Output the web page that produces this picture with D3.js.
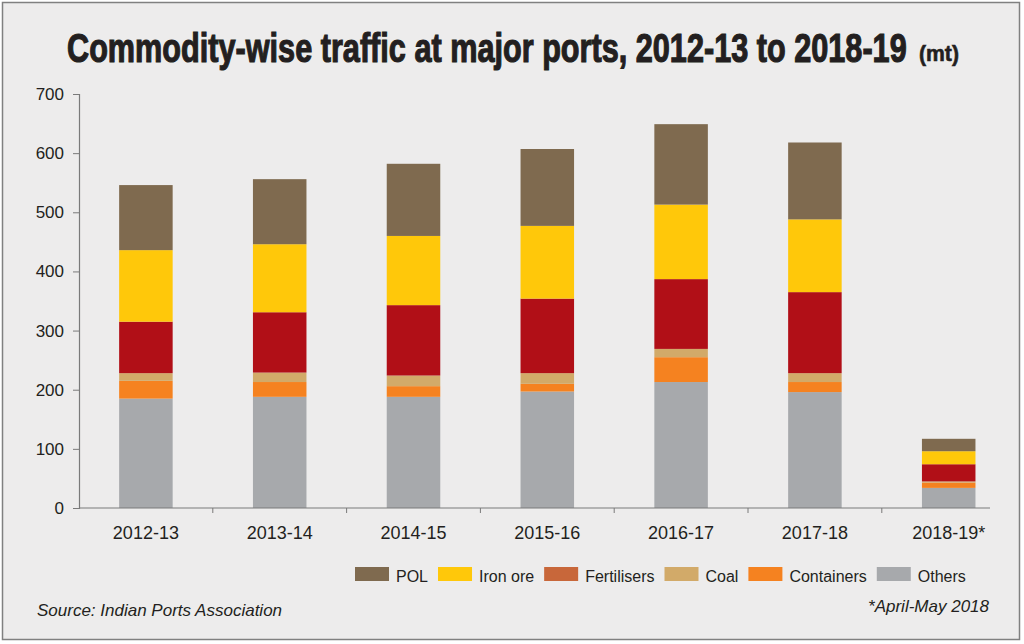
<!DOCTYPE html>
<html lang="en">
<head>
<meta charset="utf-8">
<title>Commodity-wise traffic at major ports</title>
<script src="https://d3js.org/d3.v7.min.js"></script>
<style>
  body { margin: 0; background: #fff; }
  svg { display: block; }
  text { font-family: "Liberation Sans", Arial, sans-serif; fill: #231f20; }
</style>
</head>
<body>
<div id="chart"></div>
<script>
// years on the x axis
const categories = ["2012-13", "2013-14", "2014-15", "2015-16", "2016-17", "2017-18", "2018-19*"];

// million tonnes, bottom of the stack first
const others      = [185, 188, 188, 197, 213, 196, 34];
const containers  = [30, 25, 18, 13, 42, 17, 9];
const coal        = [13, 16, 18, 18, 14, 15, 2];
const fertilisers = [87, 102, 119, 126, 118, 137, 29];
const ironOre     = [121, 115, 117, 123, 126, 123, 22];
const pol         = [110, 110, 122, 130, 136, 130, 21];

const yTicks = [0, 100, 200, 300, 400, 500, 600, 700];

const seriesKeys = ["Others", "Containers", "Coal", "Fertilisers", "Iron ore", "POL"];
const seriesValues = [others, containers, coal, fertilisers, ironOre, pol];
const barColors = ["#a7a9ac", "#f58220", "#d2aa69", "#b10f17", "#ffc80a", "#7f6a4f"];
// legend swatches as printed (fertilisers swatch differs from its bar colour)
const legendOrder = ["POL", "Iron ore", "Fertilisers", "Coal", "Containers", "Others"];
const legendColors = ["#7f6a4f", "#ffc80a", "#c8673a", "#d2aa69", "#f58220", "#a7a9ac"];

const width = 1024, height = 644;
const plotLeft = 79, plotBottom = 508, plotTop = 94;

const rows = categories.map((c, i) => {
  const r = {year: c};
  seriesKeys.forEach((k, j) => r[k] = seriesValues[j][i]);
  return r;
});

const svg = d3.select("#chart").append("svg")
    .attr("width", width)
    .attr("height", height);

svg.append("rect")
    .attr("x", 2.5).attr("y", 2.5)
    .attr("width", 1017).attr("height", 637)
    .attr("fill", "#edecec")
    .attr("stroke", "#808080")
    .attr("stroke-width", 1.5);

// title: squeeze horizontally to imitate the condensed heavy face
function condensed(str, x0, y0, size, targetW, sw) {
  const t = svg.append("text")
      .style("font-family", "'Liberation Sans Narrow', 'Liberation Sans', Arial, sans-serif")
      .style("font-weight", "bold")
      .style("font-size", size + "px")
      .style("stroke", "#231f20")
      .style("stroke-width", sw + "px")
      .text(str);
  const w = t.node().getComputedTextLength();
  t.attr("transform", `translate(${x0},${y0}) scale(${targetW / w},1)`);
}
condensed("Commodity-wise traffic at major ports, 2012-13 to 2018-19", 67, 62, 41, 840, 1.2);
condensed("(mt)", 919, 61, 22, 40, 0.6);

const x = d3.scaleBand()
    .domain(categories)
    .range([plotLeft, 1015.6])
    .paddingInner(0.6)
    .paddingOuter(0.3);

const y = d3.scaleLinear()
    .domain([0, 700])
    .range([plotBottom, plotTop]);

const stack = d3.stack().keys(seriesKeys)(rows);

svg.append("g")
  .selectAll("g")
  .data(stack)
  .join("g")
    .attr("fill", (d, i) => barColors[i])
  .selectAll("rect")
  .data(d => d)
  .join("rect")
    .attr("x", d => x(d.data.year))
    .attr("y", d => y(d[1]))
    .attr("width", x.bandwidth())
    .attr("height", d => y(d[0]) - y(d[1]));

// y axis
const yAxis = svg.append("g")
    .attr("transform", `translate(${plotLeft},0)`)
    .call(d3.axisLeft(y).tickValues(yTicks).tickSize(6).tickPadding(9));
yAxis.select(".domain").attr("stroke", "#7a7a7a").attr("stroke-width", 1.2);
yAxis.selectAll(".tick line").attr("stroke", "#7a7a7a");
yAxis.selectAll(".tick text")
    .style("font-size", "17px")
    .attr("fill", "#231f20");

// x axis: line, ticks between bars, labels under bars
const step = x.step();
const gx = svg.append("g");
gx.append("line")
    .attr("x1", plotLeft).attr("x2", 990)
    .attr("y1", plotBottom).attr("y2", plotBottom)
    .attr("stroke", "#7a7a7a").attr("stroke-width", 1.2);
gx.selectAll("line.tk")
  .data(categories.slice(1))
  .join("line")
    .attr("class", "tk")
    .attr("x1", d => x(d) - x.paddingOuter() * step)
    .attr("x2", d => x(d) - x.paddingOuter() * step)
    .attr("y1", plotBottom).attr("y2", plotBottom + 5)
    .attr("stroke", "#7a7a7a");
gx.selectAll("text")
  .data(categories)
  .join("text")
    .attr("x", d => x(d) + x.bandwidth() / 2)
    .attr("y", 539)
    .attr("text-anchor", "middle")
    .style("font-size", "18px")
    .text(d => d);

// legend, laid out left to right
const legend = svg.append("g");
const items = legend.selectAll("g")
  .data(legendOrder)
  .join("g");
items.append("rect")
    .attr("width", 34).attr("height", 14)
    .attr("y", 567)
    .attr("fill", (d, i) => legendColors[i]);
items.append("text")
    .attr("y", 581.5)
    .attr("x", 41)
    .style("font-size", "16px")
    .text(d => d);

let cx = 355;
items.each(function() {
  const g = d3.select(this);
  g.attr("transform", `translate(${cx},0)`);
  const w = g.select("text").node().getComputedTextLength();
  cx += 41 + w + 10;
});

// notes
svg.append("text")
    .attr("x", 37).attr("y", 616)
    .style("font-size", "17px")
    .style("font-style", "italic")
    .text("Source: Indian Ports Association");

svg.append("text")
    .attr("x", 989).attr("y", 612)
    .attr("text-anchor", "end")
    .style("font-size", "17px")
    .style("font-style", "italic")
    .text("*April-May 2018");
</script>
</body>
</html>
